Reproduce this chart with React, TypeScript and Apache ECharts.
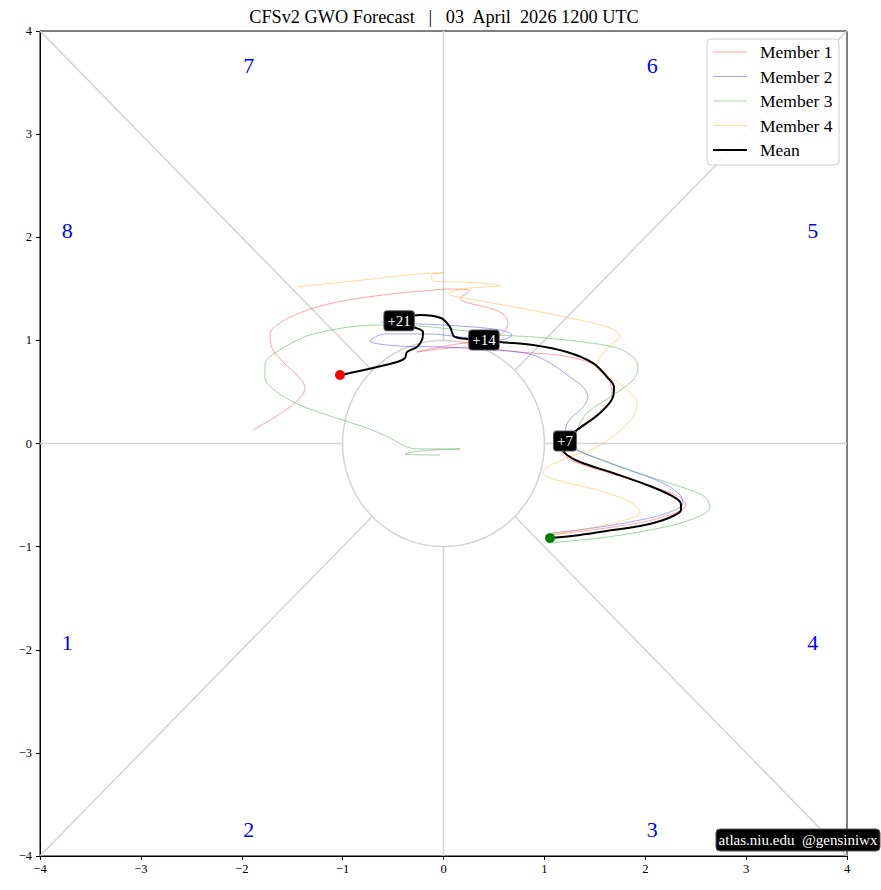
import React, { useEffect, useRef } from 'react';
import * as echarts from 'echarts';

const FONT = '"Liberation Serif", "DejaVu Serif", serif';

const titleText = 'CFSv2 GWO Forecast   |   03  April  2026 1200 UTC';
const watermarkText = 'atlas.niu.edu  @gensiniwx';
const seriesNames = ['Member 1', 'Member 2', 'Member 3', 'Member 4', 'Mean'];
const seriesColors = ['rgba(255,0,0,0.4)', 'rgba(0,0,255,0.4)', 'rgba(0,128,0,0.4)', 'rgba(255,165,0,0.45)', '#000'];
const seriesWidths = [0.9, 0.9, 0.9, 0.9, 2];

const member1: number[][] = [
  [1.056, -0.887], [1.68, -0.81], [2.146, -0.722], [2.404, -0.596], [2.345, -0.519], [2.047, -0.412],
  [1.68, -0.296], [1.304, -0.179], [1.175, -0.082], [1.175, 0.015], [1.304, 0.112], [1.551, 0.286],
  [1.67, 0.441], [1.651, 0.596], [1.551, 0.732], [1.254, 0.839], [0.758, 0.887], [0.233, 0.936],
  [-0.263, 0.887], [-0.035, 0.936], [0.263, 0.984], [0.54, 1.033], [0.639, 1.168], [0.56, 1.275],
  [0.164, 1.411], [0.263, 1.479], [0.064, 1.498], [-0.104, 1.488], [-0.6, 1.44], [-1.095, 1.363],
  [-1.423, 1.266], [-1.651, 1.149], [-1.72, 1.052], [-1.7, 0.926], [-1.591, 0.79], [-1.423, 0.635],
  [-1.373, 0.538], [-1.423, 0.441], [-1.591, 0.306], [-1.888, 0.131],
];

const member2: number[][] = [
  [1.075, -0.868], [1.551, -0.81], [1.948, -0.742], [2.245, -0.664], [2.374, -0.577], [2.345, -0.499],
  [2.176, -0.383], [1.75, -0.228], [1.383, -0.092], [1.254, -0.024], [1.204, 0.053], [1.234, 0.209],
  [1.383, 0.354], [1.432, 0.451], [1.383, 0.548], [1.254, 0.645], [1.056, 0.781], [0.887, 0.858],
  [0.729, 0.887], [0.362, 0.916], [-0.035, 0.936], [-0.431, 0.945], [-0.729, 0.994], [-0.58, 1.062],
  [-0.134, 1.062], [0.164, 1.033], [0.56, 1.004], [0.679, 1.052], [0.56, 1.101], [0.164, 1.139],
  [-0.233, 1.159], [-0.629, 1.178],
];

const member3: number[][] = [
  [1.026, -0.965], [1.551, -0.916], [2.047, -0.839], [2.443, -0.742], [2.642, -0.616], [2.592, -0.519],
  [2.443, -0.451], [2.176, -0.364], [1.849, -0.257], [1.551, -0.15], [1.353, -0.073], [1.284, -0.015],
  [1.323, 0.131], [1.423, 0.296], [1.651, 0.451], [1.879, 0.616], [1.928, 0.742], [1.879, 0.839],
  [1.72, 0.926], [1.383, 0.984], [0.887, 1.033], [0.56, 1.052], [0.064, 1.11], [-0.233, 1.139],
  [-0.629, 1.149], [-1.254, 1.071], [-1.591, 0.926], [-1.77, 0.761], [-1.77, 0.635], [-1.651, 0.499],
  [-1.423, 0.373], [-1.095, 0.257], [-0.758, 0.15], [-0.53, 0.053], [-0.362, -0.034], [-0.233, -0.053],
  [0.164, -0.053], [-0.233, -0.073], [-0.382, -0.102], [-0.035, -0.112],
];

const member4: number[][] = [
  [1.006, -0.887], [1.551, -0.8], [1.948, -0.664], [1.849, -0.567], [1.522, -0.451], [1.125, -0.354],
  [0.986, -0.286], [1.026, -0.228], [1.254, -0.131], [1.522, -0.034], [1.72, 0.102], [1.879, 0.257],
  [1.918, 0.393], [1.819, 0.519], [1.651, 0.645], [1.522, 0.742], [1.551, 0.839], [1.68, 0.975],
  [1.75, 1.033], [1.651, 1.12], [1.254, 1.217], [0.758, 1.314], [0.263, 1.401], [0.05, 1.45],
  [0.2, 1.5], [0.56, 1.53], [0.3, 1.56], [-0.1, 1.575], [-0.12, 1.63], [0.0, 1.655],
  [-0.3, 1.64], [-0.9, 1.575], [-1.452, 1.518],
];

const meanTrack: number[][] = [
  [1.056, -0.916], [1.353, -0.887], [1.68, -0.839], [1.948, -0.8], [2.117, -0.761], [2.275, -0.703],
  [2.354, -0.645], [2.354, -0.587], [2.265, -0.509], [2.017, -0.402], [1.68, -0.286], [1.353, -0.179],
  [1.224, -0.111], [1.184, -0.053], [1.204, 0.024], [1.323, 0.131], [1.551, 0.296], [1.68, 0.451],
  [1.69, 0.548], [1.621, 0.645], [1.482, 0.78], [1.224, 0.887], [0.887, 0.955], [0.56, 0.984],
  [0.401, 1.004], [0.114, 1.033], [0.064, 1.13], [-0.025, 1.217], [-0.233, 1.246], [-0.44, 1.19],
  [-0.302, 1.13], [-0.203, 1.081], [-0.213, 1.004], [-0.263, 0.936], [-0.362, 0.887], [-0.382, 0.829],
  [-0.461, 0.79], [-0.659, 0.742], [-0.927, 0.684], [-1.026, 0.664],
];

const leadLabels = [
  { index: 14, text: '+7' },
  { index: 24, text: '+14' },
  { index: 29, text: '+21' },
];

const phaseLabels: (number | string)[][] = [
  [-3.73, -1.93, '1'], [-1.93, -3.74, '2'], [2.07, -3.74, '3'], [3.66, -1.93, '4'],
  [3.66, 2.07, '5'], [2.07, 3.67, '6'], [-1.93, 3.67, '7'], [-3.73, 2.07, '8'],
];

const guideSegments: number[][][] = [
  [[-4, 0], [-1, 0]], [[1, 0], [4, 0]], [[0, 1], [0, 4]], [[0, -1], [0, -4]],
  [[-4, 4], [-0.7071, 0.7071]], [[4, 4], [0.7071, 0.7071]],
  [[-4, -4], [-0.7071, -0.7071]], [[4, -4], [0.7071, -0.7071]],
];

const GRID = { left: 40, top: 31, width: 807, height: 825 };

export default function App() {
  const ref = useRef<HTMLDivElement>(null);
  useEffect(() => {
    if (!ref.current) return;
    const chart = echarts.init(ref.current, undefined, { renderer: 'svg' });
    const circle: number[][] = [];
    for (let i = 0; i <= 180; i++) {
      const a = (i / 180) * Math.PI * 2;
      circle.push([Math.cos(a), Math.sin(a)]);
    }
    const gray = { color: '#d3d3d3', width: 1.5 };
    const series: any[] = [];
    guideSegments.forEach((seg) => {
      series.push({ type: 'line', data: seg, symbol: 'none', silent: true, lineStyle: gray, z: 1 });
    });
    series.push({ type: 'line', data: circle, symbol: 'none', silent: true, lineStyle: gray, z: 1 });
    [member1, member2, member3, member4, meanTrack].forEach((m, i) => {
      series.push({
        name: seriesNames[i], type: 'line', data: m, symbol: 'none', smooth: 0.35, z: i === 4 ? 3 : 2,
        lineStyle: { color: seriesColors[i], width: seriesWidths[i] },
      });
    });
    series.push({
      type: 'scatter', z: 4, silent: true, symbolSize: 10,
      data: [
        { value: meanTrack[0], itemStyle: { color: '#008000', opacity: 1 } },
        { value: meanTrack[meanTrack.length - 1], itemStyle: { color: '#ff0000', opacity: 1 } },
      ],
    });
    const clear = { color: 'rgba(0,0,0,0)', opacity: 1 };
    series.push({
      type: 'scatter', z: 5, silent: true, symbolSize: 2, itemStyle: clear,
      data: leadLabels.map((l) => ({
        value: meanTrack[l.index],
        label: {
          show: true, position: 'inside', formatter: l.text, color: '#fff', fontFamily: FONT, fontSize: 15,
          backgroundColor: '#000', borderColor: '#555', borderWidth: 1, borderRadius: 3, padding: [3, 3, 1, 3],
        },
      })),
    });
    series.push({
      type: 'scatter', z: 5, silent: true, symbolSize: 2, itemStyle: clear,
      data: phaseLabels.map((p) => ({
        value: [p[0], p[1]],
        label: { show: true, position: 'inside', formatter: String(p[2]), color: '#0000ff', fontFamily: FONT, fontSize: 22 },
      })),
    });

    const Z = 100;
    const legendChildren: any[] = [
      { type: 'rect', z: Z, shape: { x: 0, y: 0, width: 132, height: 126, r: 4 }, style: { fill: 'rgba(255,255,255,0.9)', stroke: '#cccccc', lineWidth: 1 } },
    ];
    seriesNames.forEach((n, i) => {
      const y = 13 + i * 24.5;
      legendChildren.push({ type: 'line', z: Z + 1, shape: { x1: 6, y1: y, x2: 40, y2: y }, style: { stroke: seriesColors[i], lineWidth: seriesWidths[i] } });
      legendChildren.push({ type: 'text', z: Z + 1, x: 53, y, style: { text: n, fontFamily: FONT, fontSize: 17.5, fill: '#000', verticalAlign: 'middle' } });
    });

    const fmt = (v: number) => (v < 0 ? '\u2212' + Math.abs(v) : String(v));
    const axisCommon = {
      type: 'value', min: -4, max: 4, interval: 1,
      axisLine: { show: true, onZero: false, lineStyle: { color: '#000', width: 1 } },
      axisTick: { show: true, length: 4, lineStyle: { color: '#000' } },
      splitLine: { show: false },
    };
    chart.setOption({
      animation: false,
      grid: { ...GRID, show: true, borderColor: '#000', borderWidth: 1, backgroundColor: 'transparent' },
      xAxis: { ...axisCommon, axisLabel: { fontFamily: FONT, fontSize: 12.5, color: '#000', margin: 6, formatter: fmt } },
      yAxis: { ...axisCommon, axisLabel: { fontFamily: FONT, fontSize: 12.5, color: '#000', margin: 8, formatter: fmt } },
      graphic: [
        {
          type: 'text', x: 444, y: 17, z: Z,
          style: { text: titleText, fontFamily: FONT, fontSize: 18.3, fill: '#000', align: 'center', verticalAlign: 'middle' },
        },
        { type: 'group', x: 707, y: 39, z: Z, children: legendChildren },
        {
          type: 'group', x: 716, y: 829, z: Z,
          children: [
            { type: 'rect', z: Z, shape: { x: 0, y: 0, width: 164, height: 22, r: 4 }, style: { fill: '#000', stroke: '#555' } },
            {
              type: 'text', z: Z + 1, x: 82, y: 11,
              style: { text: watermarkText, fontFamily: FONT, fontSize: 15, fill: '#fff', align: 'center', verticalAlign: 'middle' },
            },
          ],
        },
      ],
      series,
    });
    return () => chart.dispose();
  }, []);
  return <div ref={ref} style={{ position: 'absolute', left: 0, top: 0, width: 881, height: 890 }} />;
}
